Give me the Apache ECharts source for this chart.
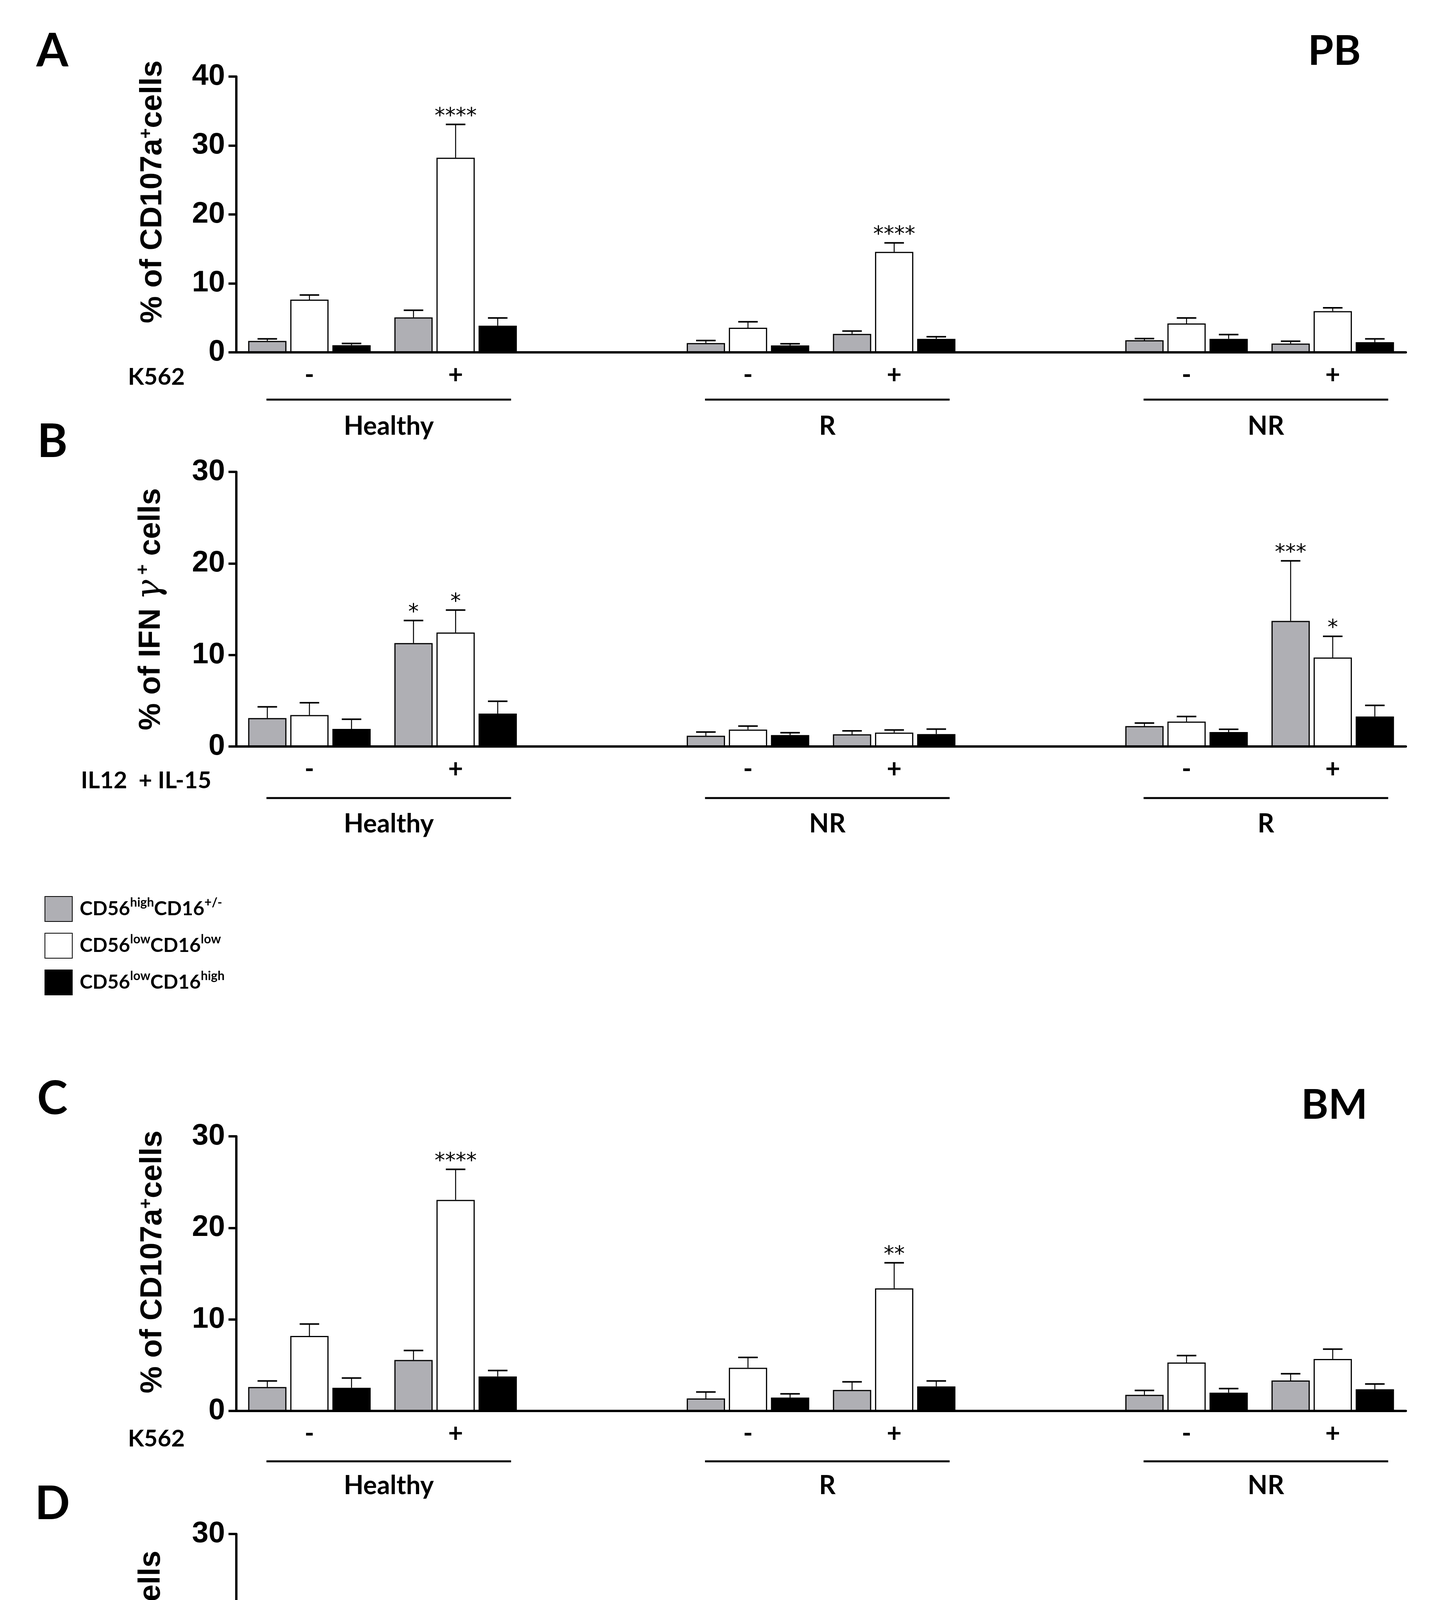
<!DOCTYPE html>
<html>
<head>
<meta charset="utf-8">
<script src="https://cdn.jsdelivr.net/npm/echarts@6/dist/echarts.min.js"></script>
<style>
html,body{margin:0;padding:0;background:#fff;}
#chart{width:3666px;height:4914px;}
</style>
</head>
<body>
<div id="chart"></div>
<script>
// ---------- DATA ----------
const xTicks = ['-', '+', '', '-', '+', '', '-', '+'];
const seriesNames = ['CD56highCD16+/-', 'CD56lowCD16low', 'CD56lowCD16high'];

// Panel A (PB, CD107a, K562)
const aGroups = ['Healthy', 'R', 'NR'];
const aGray = [1.66, 5.07, null, 1.34, 2.68, null, 1.75, 1.27];
const aGraySem = [0.29, 1.04, null, 0.38, 0.41, null, 0.25, 0.35];
const aWhite = [7.65, 28.23, null, 3.57, 14.57, null, 4.19, 5.98];
const aWhiteSem = [0.67, 4.83, null, 0.86, 1.31, null, 0.79, 0.48];
const aBlack = [1.04, 3.87, null, 1.0, 1.96, null, 1.96, 1.48];
const aBlackSem = [0.25, 1.12, null, 0.24, 0.31, null, 0.62, 0.48];
const aGrayStars = ['', '', '', '', '', '', '', ''];
const aWhiteStars = ['', '****', '', '', '****', '', '', ''];
const aBlackStars = ['', '', '', '', '', '', '', ''];

// Panel B (PB, IFN-gamma, IL12 + IL-15)
const bGroups = ['Healthy', 'NR', 'R'];
const bGray = [3.10, 11.30, null, 1.17, 1.33, null, 2.23, 13.72];
const bGraySem = [1.23, 2.46, null, 0.41, 0.38, null, 0.33, 6.56];
const bWhite = [3.43, 12.45, null, 1.85, 1.52, null, 2.72, 9.72];
const bWhiteSem = [1.35, 2.45, null, 0.38, 0.28, null, 0.55, 2.31];
const bBlack = [1.92, 3.59, null, 1.25, 1.36, null, 1.58, 3.27];
const bBlackSem = [1.06, 1.35, null, 0.25, 0.54, null, 0.30, 1.22];
const bGrayStars = ['', '*', '', '', '', '', '', '***'];
const bWhiteStars = ['', '*', '', '', '', '', '', '*'];
const bBlackStars = ['', '', '', '', '', '', '', ''];

// Panel C (BM, CD107a, K562)
const cGroups = ['Healthy', 'R', 'NR'];
const cGray = [2.61, 5.57, null, 1.37, 2.29, null, 1.76, 3.33];
const cGraySem = [0.66, 1.03, null, 0.70, 0.89, null, 0.48, 0.74];
const cWhite = [8.19, 23.06, null, 4.72, 13.39, null, 5.29, 5.68];
const cWhiteSem = [1.30, 3.33, null, 1.13, 2.79, null, 0.76, 1.07];
const cBlack = [2.53, 3.77, null, 1.46, 2.68, null, 2.00, 2.37];
const cBlackSem = [1.06, 0.65, null, 0.41, 0.59, null, 0.44, 0.57];
const cGrayStars = ['', '', '', '', '', '', '', ''];
const cWhiteStars = ['', '****', '', '', '**', '', '', ''];
const cBlackStars = ['', '', '', '', '', '', '', ''];

// Panel D (BM, IFN-gamma, IL12 + IL-15)
const dGroups = ['Healthy', 'R', 'NR'];
const dGray = [1.54, 10.52, null, 1.31, 3.15, null, 1.80, 16.62];
const dGraySem = [1.17, 1.26, null, 0.87, 1.90, null, 0.33, 3.42];
const dWhite = [3.54, 9.93, null, 3.88, 4.66, null, 3.43, 11.67];
const dWhiteSem = [1.90, 2.00, null, 1.07, 2.56, null, 0.97, 1.78];
const dBlack = [1.54, 3.84, null, 1.26, 2.19, null, 2.19, 6.12];
const dBlackSem = [1.17, 1.04, null, 0.26, 0.52, null, 0.65, 1.84];
const dGrayStars = ['', '*', '', '', '', '', '', '****'];
const dWhiteStars = ['', '*', '', '', '', '', '', '**'];
const dBlackStars = ['', '', '', '', '', '', '', ''];

// ---------- STYLE / LAYOUT ----------
const FILLS = ['#afafb4', '#ffffff', '#000000'];
const BAR_W = 98, BAR_GAP = 0.10;
const LABEL_FONT = 'Lato';
const panels = [
  {letter: 'A', tag: 'PB', top: 196, height: 706, max: 40, yName: 'cd', nameShift: 116, xName: 'K562', groups: aGroups,
   vals: [aGray, aWhite, aBlack], sems: [aGraySem, aWhiteSem, aBlackSem], stars: [aGrayStars, aWhiteStars, aBlackStars],
   letterY: 132, tagY: 132, xNameDy: 64, lineDy: 121, groupDy: 190},
  {letter: 'B', tag: '', top: 1208, height: 703, max: 30, yName: 'ifn', nameShift: 0, xName: 'IL12  + IL-15', groups: bGroups,
   vals: [bGray, bWhite, bBlack], sems: [bGraySem, bWhiteSem, bBlackSem], stars: [bGrayStars, bWhiteStars, bBlackStars],
   letterY: 1132, tagY: 0, xNameDy: 88, lineDy: 132, groupDy: 199},
  {letter: 'C', tag: 'BM', top: 2909, height: 703, max: 30, yName: 'cd', nameShift: 60, xName: 'K562', groups: cGroups,
   vals: [cGray, cWhite, cBlack], sems: [cGraySem, cWhiteSem, cBlackSem], stars: [cGrayStars, cWhiteStars, cBlackStars],
   letterY: 2814, tagY: 2830, xNameDy: 72, lineDy: 129, groupDy: 192},
  {letter: 'D', tag: '', top: 3927, height: 705, max: 30, yName: 'ifn', nameShift: 0, xName: 'IL12  + IL-15', groups: dGroups,
   vals: [dGray, dWhite, dBlack], sems: [dGraySem, dWhiteSem, dBlackSem], stars: [dGrayStars, dWhiteStars, dBlackStars],
   letterY: 3851, tagY: 0, xNameDy: 95, lineDy: 122, groupDy: 188}
];

const chart = echarts.init(document.getElementById('chart'), null, {renderer: 'canvas', width: 3666, height: 4914, devicePixelRatio: 1});

const nameRich = {
  a: {fontSize: 78, fontWeight: 'bold', fontFamily: 'Liberation Sans', color: '#000'},
  s: {fontSize: 46, fontWeight: 'bold', fontFamily: 'Liberation Sans', color: '#000', verticalAlign: 'top', lineHeight: 46},
  g: {fontSize: 86, fontStyle: 'italic', fontFamily: 'DejaVu Serif', color: '#000'}
};
const yNames = {
  cd: '{a|% of CD107a}{s|+}{a|cells}',
  ifn: '{a|% of IFN }{g|γ}{s| +}{a| cells}'
};

const grids = [], xAxes = [], yAxes = [], series = [];
panels.forEach((p, k) => {
  grids.push({left: 605, right: 67, top: p.top, height: p.height, containLabel: false});
  xAxes.push({
    type: 'category', gridIndex: k, data: xTicks.map((t, i) => 'k' + i),
    axisLine: {show: true, lineStyle: {color: '#000', width: 6}},
    axisTick: {show: false},
    axisLabel: {interval: 0, margin: 26, formatter: (v, i) => xTicks[i], fontSize: 66, lineHeight: 66, fontWeight: 'bold', fontFamily: LABEL_FONT, color: '#000'},
    splitLine: {show: false}
  });
  yAxes.push({
    type: 'value', gridIndex: k, min: 0, max: p.max, interval: 10,
    axisLine: {show: true, lineStyle: {color: '#000', width: 6}},
    axisTick: {show: true, length: 20, lineStyle: {color: '#000', width: 6}},
    axisLabel: {margin: 29, fontSize: 76, fontWeight: 'bold', fontFamily: 'Liberation Sans', color: '#000'},
    splitLine: {show: false},
    name: yNames[p.yName], nameLocation: 'middle', nameRotate: 90, nameGap: 175,
    nameTextStyle: {rich: nameRich, padding: [0, 0, 0, p.nameShift]}
  });
  for (let s = 0; s < 3; s++) {
    series.push({
      type: 'bar', name: seriesNames[s], xAxisIndex: k, yAxisIndex: k,
      data: p.vals[s], barWidth: BAR_W, barGap: (BAR_GAP * 100) + '%',
      itemStyle: {color: FILLS[s], borderColor: '#000', borderWidth: 3},
      emphasis: {disabled: true}, animation: false, z: 2
    });
  }
  for (let s = 0; s < 3; s++) {
    const rows = [], starList = [];
    p.vals[s].forEach((v, i) => {
      if (v != null) { rows.push([i, v, p.sems[s][i]]); starList.push(p.stars[s][i]); }
    });
    const offset = (s - 1) * BAR_W * (1 + BAR_GAP);
    series.push({
      type: 'custom', xAxisIndex: k, yAxisIndex: k, data: rows, z: 5, animation: false, silent: true,
      renderItem: (params, api) => {
        const ci = api.value(0), m = api.value(1), e = api.value(2);
        const base = api.coord([ci, m]);
        const top = api.coord([ci, m + e]);
        const x = base[0] + offset;
        const children = [
          {type: 'line', shape: {x1: x, y1: base[1], x2: x, y2: top[1]}, style: {stroke: '#000', lineWidth: 2.5}},
          {type: 'line', shape: {x1: x - 25, y1: top[1], x2: x + 25, y2: top[1]}, style: {stroke: '#000', lineWidth: 4}}
        ];
        const st = starList[params.dataIndex];
        if (st) {
          children.push({type: 'text', style: {text: st, x: x, y: top[1] - 20, font: '54px "DejaVu Sans"', fill: '#000',
            align: 'center', verticalAlign: 'middle', textAlign: 'center', textVerticalAlign: 'middle'}});
        }
        return {type: 'group', children: children};
      }
    });
  }
});

const legendRich = {
  p: {width: 14},
  m: {fontSize: 50, fontWeight: 'bold', fontFamily: LABEL_FONT, color: '#000', lineHeight: 64},
  s: {fontSize: 32, fontWeight: 'bold', fontFamily: LABEL_FONT, color: '#000', lineHeight: 34, verticalAlign: 'top'}
};
const legendText = {
  'CD56highCD16+/-': '{p|}{m|CD56}{s|high}{m|CD16}{s|+/-}',
  'CD56lowCD16low': '{p|}{m|CD56}{s|low}{m|CD16}{s|low}',
  'CD56lowCD16high': '{p|}{m|CD56}{s|low}{m|CD16}{s|high}'
};

chart.setOption({
  backgroundColor: '#fff',
  animation: false,
  grid: grids, xAxis: xAxes, yAxis: yAxes, series: series,
  legend: {
    show: true, orient: 'vertical', left: 109, top: 2289, itemWidth: 70, itemHeight: 64, itemGap: 28,
    selectedMode: false, icon: 'rect', data: seriesNames,
    formatter: n => legendText[n], textStyle: {rich: legendRich}
  }
});

// annotations below each panel (computed from axis positions)
const graphics = [];
const txt = (text, x, y, size, align, family, weight) => ({
  type: 'text', silent: true,
  style: {text: text, x: x, y: y, font: (weight || 'bold') + ' ' + size + 'px "' + (family || LABEL_FONT) + '"', fill: '#000',
    align: align || 'center', verticalAlign: 'middle', textAlign: align || 'center', textVerticalAlign: 'middle'}
});
panels.forEach((p, k) => {
  const y0 = chart.convertToPixel({yAxisIndex: k}, 0);
  graphics.push(txt(p.letter, 134, p.letterY, 118));
  if (p.tag) graphics.push(txt(p.tag, 3416, p.tagY, 106));
  graphics.push(txt(p.xName, p.xName === 'K562' ? 473 : 541, y0 + p.xNameDy, 60, 'right'));
  for (let g = 0; g < 3; g++) {
    const c0 = chart.convertToPixel({xAxisIndex: k}, 3 * g);
    const c1 = chart.convertToPixel({xAxisIndex: k}, 3 * g + 1);
    const x1 = c0 - 110, x2 = c1 + 142;
    graphics.push({type: 'line', silent: true, shape: {x1: x1, y1: y0 + p.lineDy, x2: x2, y2: y0 + p.lineDy}, style: {stroke: '#000', lineWidth: 5}});
    graphics.push(txt(p.groups[g], (x1 + x2) / 2, y0 + p.groupDy, 66));
  }
});
chart.setOption({graphic: {elements: graphics}});
</script>
</body>
</html>
